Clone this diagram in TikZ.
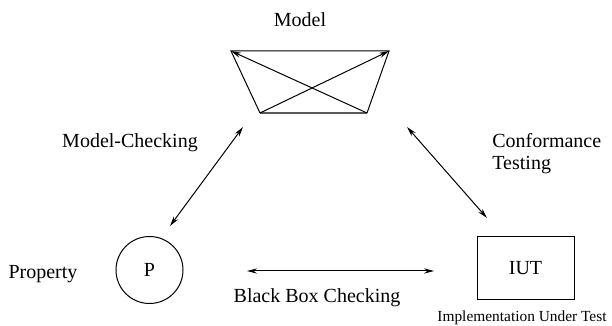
\documentclass[tikz,border=0pt]{standalone}
\usepackage{fontspec}
\setmainfont{Liberation Serif}
\usetikzlibrary{arrows.meta}
\tikzset{
    link/.style={{Stealth[length=5pt,width=2.6pt]}-{Stealth[length=5pt,width=2.6pt]}, line width=0.5pt},
    lbl/.style={font=\fontsize{10}{11}\selectfont, inner sep=0pt}
}
\begin{document}
\begin{tikzpicture}[x=0.5pt,y=-0.5pt]
        \useasboundingbox (0,0) rectangle (612,326);
        % Define model corners
        \foreach \x/\y/\n in {231/51/tl, 389/51/tr, 260/113/bl, 367/113/br} {
            \coordinate (\n) at (\x,\y);
        }
        % Draw model
        \draw[line width=0.5pt] (bl) -- (tl) -- (tr) -- (br);
        \draw[line width=0.7pt, gray!70!black] (bl) -- (br);
        \draw[line width=0.5pt, -{Stealth[length=5pt,width=2.6pt]}] (bl) -- (tr);
        \draw[line width=0.5pt, -{Stealth[length=5pt,width=2.6pt]}] (br) -- (tl);
        \node[lbl] (model) at (300,20) {Model};
        % Property and IUT
        \node[circle, draw, line width=0.5pt, minimum size=33.5pt, inner sep=0pt, lbl] (prop) at (149.5,270) {P};
        \node[lbl] (proplbl) at (43,274) {Property};
        \node[draw, line width=0.5pt, minimum width=48.5pt, minimum height=31.5pt, lbl] (iut) at (525.5,268.5) {IUT};
        \node[lbl, font=\fontsize{7.7}{9.5}\selectfont] (iutlbl) at (522,318) {Implementation Under Test};
        % Arrow end points
        \foreach \x/\y/\n in {243/127/mca, 170/226/mcb, 407/127/cta, 487/218/ctb, 247/271/bba, 434/271/bbb} {
            \coordinate (\n) at (\x,\y);
        }
        % Draw arrows
        \foreach \a/\b in {mca/mcb, cta/ctb, bba/bbb}
        {   \draw[link] (\a) -- (\b);}
        \node[lbl] (mclbl) at (130,143) {Model-Checking};
        \node[lbl, anchor=west, align=left] (ctlbl) at (492,154) {Conformance\\Testing};
        \node[lbl] (bblbl) at (317,298) {Black Box Checking};
    \end{tikzpicture}
\end{document}
